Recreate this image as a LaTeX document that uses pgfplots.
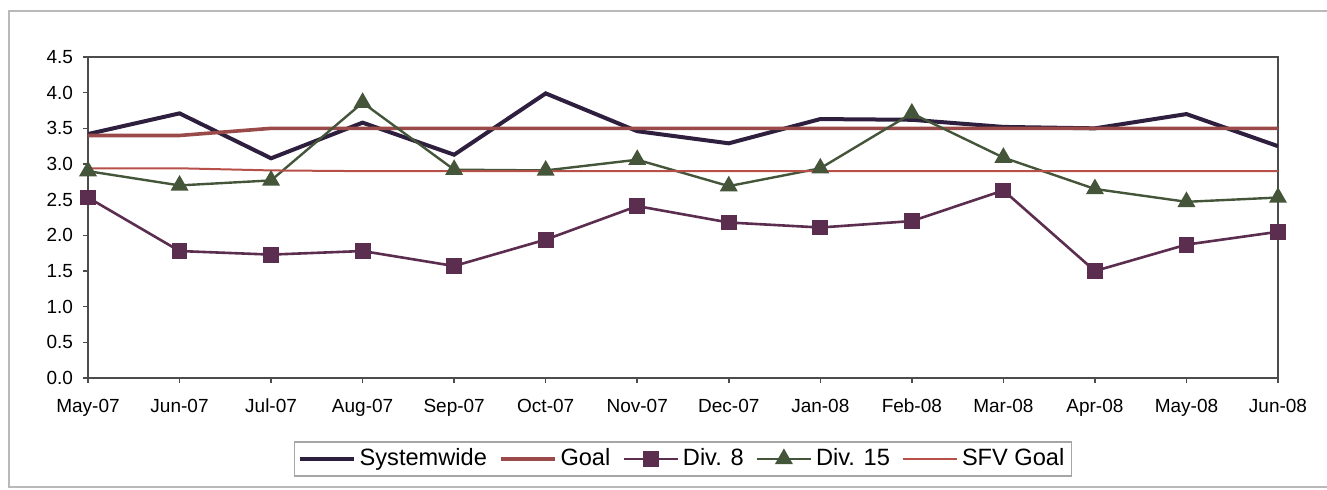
\documentclass[border=0pt]{standalone}
\usepackage{fontspec}
\setmainfont{Liberation Sans}
\usepackage{pgfplots}
\pgfplotsset{compat=1.18}
\definecolor{sysc}{HTML}{2D1F3D}
\definecolor{goalc}{HTML}{9A4A48}
\definecolor{divviii}{HTML}{5B2D4F}
\definecolor{divxv}{HTML}{44553A}
\definecolor{sfvc}{HTML}{B8504A}
\begin{document}
\begin{tikzpicture}
\path[use as bounding box] (-44pt,-55.5pt) rectangle (619.5pt,189pt);
\draw[gray!55, line width=1pt] (630pt,183.5pt) -- (-39.5pt,183.5pt) -- (-39.5pt,-54.5pt) -- (630pt,-54.5pt);
\begin{axis}[
  at={(0,0)}, anchor=south west, scale only axis,
  width=595pt, height=160.5pt,
  xmin=0, xmax=13, ymin=0, ymax=4.5,
  xtick={0,1,2,3,4,5,6,7,8,9,10,11,12,13},
  xticklabels={May-07,Jun-07,Jul-07,Aug-07,Sep-07,Oct-07,Nov-07,Dec-07,Jan-08,Feb-08,Mar-08,Apr-08,May-08,Jun-08},
  ytick={0,0.5,1,1.5,2,2.5,3,3.5,4,4.5},
  yticklabel style={xshift=-1.5pt, /pgf/number format/.cd, fixed, fixed zerofill, precision=1, assume math mode=true},
  tick label style={font=\fontsize{9.5}{11}\selectfont},
  xticklabel style={yshift=-4.5pt},
  tick align=outside, major tick length=2.5pt,
  xtick pos=bottom, ytick pos=left,
  tick style={gray!60!black, line width=0.8pt},
  axis line style={gray!60!black, line width=1pt},
  legend style={at={(0.5,-0.252)}, anchor=center, legend columns=-1, draw=gray!70, line width=0.8pt,
    font=\fontsize{11.8}{14}\selectfont, inner sep=1.5pt,
    /tikz/every even column/.append style={column sep=4pt}},
  legend image code/.code={\draw[mark repeat=2,mark phase=2,#1] plot coordinates {(0pt,0pt) (13.5pt,0pt) (27pt,0pt)};},
]
\addplot[sysc, line width=2pt] coordinates {(0,3.42) (1,3.71) (2,3.08) (3,3.58) (4,3.13) (5,3.99) (6,3.46) (7,3.29) (8,3.63) (9,3.62) (10,3.52) (11,3.5) (12,3.7) (13,3.25)};
\addlegendentry{Systemwide}
\addplot[goalc, line width=1.8pt] coordinates {(0,3.4) (1,3.4) (2,3.5) (3,3.5) (4,3.5) (5,3.5) (6,3.5) (7,3.5) (8,3.5) (9,3.5) (10,3.5) (11,3.5) (12,3.5) (13,3.5)};
\addlegendentry{Goal}
\addplot[divviii, line width=1.3pt, mark=square*, mark size=3.3pt, mark options={solid, fill=divviii}] coordinates {(0,2.53) (1,1.78) (2,1.73) (3,1.78) (4,1.57) (5,1.94) (6,2.41) (7,2.18) (8,2.11) (9,2.2) (10,2.63) (11,1.5) (12,1.87) (13,2.05)};
\addlegendentry{Div. 8}
\addplot[divxv, line width=1.2pt, mark=triangle*, mark size=4pt, mark options={solid, fill=divxv}] coordinates {(0,2.9) (1,2.7) (2,2.77) (3,3.86) (4,2.92) (5,2.91) (6,3.06) (7,2.69) (8,2.94) (9,3.71) (10,3.09) (11,2.65) (12,2.47) (13,2.53)};
\addlegendentry{Div. 15}
\addplot[sfvc, line width=1pt] coordinates {(0,2.94) (1,2.94) (2,2.91) (3,2.9) (4,2.9) (5,2.9) (6,2.9) (7,2.9) (8,2.9) (9,2.9) (10,2.9) (11,2.9) (12,2.9) (13,2.9)};
\addlegendentry{SFV Goal}
\end{axis}
\end{tikzpicture}
\end{document}
